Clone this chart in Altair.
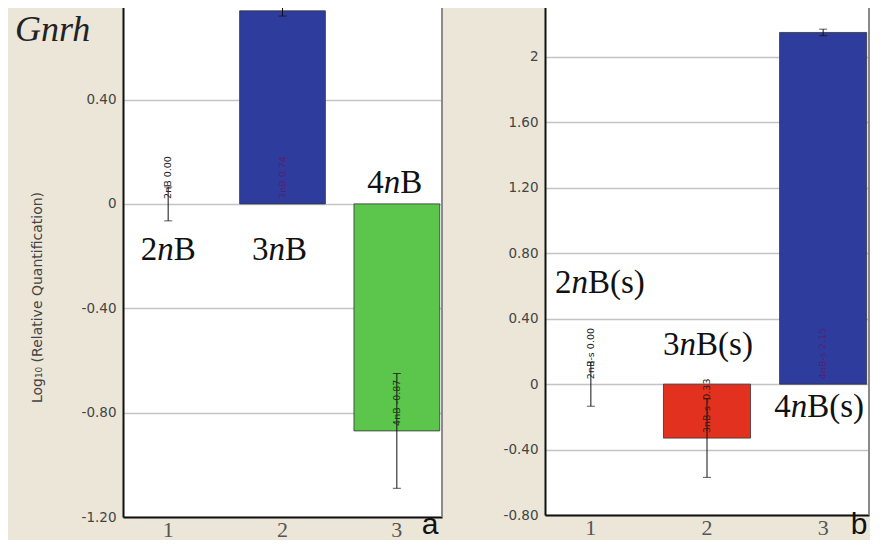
import altair as alt
import pandas as pd

# ---------------- data ----------------
cats = ["1", "2", "3"]

# panel a (Gnrh, 2nB / 3nB / 4nB)
a_names = ["2nB", "3nB", "4nB"]
a_values = [0.00, 0.74, -0.87]
a_errors = [0.065, 0.02, 0.22]
a_ticks = [0.40, 0.0, -0.40, -0.80, -1.20]
a_tick_labels = ["0.40", "0", "-0.40", "-0.80", "-1.20"]
a_big_prefix = ["2", "3", "4"]
a_big_suffix = ["B", "B", "B"]
a_big_y = [-0.175, -0.175, 0.08]

# panel b (2nB(s) / 3nB(s) / 4nB(s))
b_names = ["2nB-s", "3nB-s", "4nB-s"]
b_values = [0.00, -0.33, 2.15]
b_errors = [0.135, 0.24, 0.02]
b_ticks = [2.0, 1.6, 1.2, 0.8, 0.4, 0.0, -0.4, -0.8]
b_tick_labels = ["2", "1.60", "1.20", "0.80", "0.40", "0", "-0.40", "-0.80"]
b_big_prefix = ["2", "3", "4"]
b_big_suffix = ["B(s)", "B(s)", "B(s)"]
b_big_y = [0.62, 0.24, -0.14]

# styles
a_bar_colors = ["#ffffff", "#2e3d9d", "#5cc54b"]
a_text_colors = ["#222222", "#5b1e6e", "#1f3a1a"]
b_bar_colors = ["#ffffff", "#e2311f", "#2e3d9d"]
b_text_colors = ["#222222", "#3a1a10", "#5b1e6e"]
a_big_shift = [0, -3, -2]
b_big_shift = [9, 1, -4]

BEIGE = "#ebe6d8"
BIG = 33
EM = {"0": .5, "1": .5, "2": .5, "3": .5, "4": .5, "n": .5, "B": .667, "(": .333, "s": .389, ")": .333}


def wid(s):
    return sum(EM[c] for c in s) * BIG


def label_expr(ticks, labels):
    expr = "''"
    for t, l in reversed(list(zip(ticks, labels))):
        expr = f"abs(datum.value - ({t})) < 1e-6 ? '{l}' : " + expr
    return expr


def panel(names, values, errors, bar_colors, text_colors, ticks, tick_labels,
          domain, width, height, big_prefix, big_suffix, big_y, big_shift,
          y_title, letter, letter_x, letter_y):
    df = pd.DataFrame({
        "cat": cats,
        "value": values,
        "err": errors,
        "color": bar_colors,
        "tcolor": text_colors,
        "label": [f"{n} {v:.2f}" for n, v in zip(names, values)],
    })
    df["lo"] = df["value"] - df["err"]
    df["hi"] = df["value"] + df["err"]
    df["anchor"] = df["value"].clip(upper=0)

    common = dict(
        values=ticks, labelExpr=label_expr(ticks, tick_labels),
        grid=True, gridColor="#c4c4c4", gridWidth=1.5,
        ticks=False, domain=True, domainColor="#111111", domainWidth=2,
        labelFont="DejaVu Sans", labelFontSize=13.5, labelColor="#444444", labelPadding=7,
    )
    if y_title:
        yaxis = alt.Axis(
            title=y_title, titleFont="DejaVu Sans", titleFontSize=14, titleFontWeight="normal",
            titleColor="#444444", titleAngle=270, titleX=-86, titleY=294,
            titleAlign="center", titleBaseline="middle", **common)
    else:
        yaxis = alt.Axis(title=None, **common)

    xscale = alt.Scale(domain=cats, paddingInner=0.25, paddingOuter=0.02)
    yscale = alt.Scale(domain=domain, nice=False, zero=False)
    xenc = alt.X("cat:N", scale=xscale, axis=alt.Axis(
        labelAngle=0, title=None, ticks=False, grid=False,
        domain=True, domainColor="#111111", domainWidth=2,
        labelFont="Liberation Serif", labelFontSize=22, labelColor="#555555", labelPadding=2))

    base = alt.Chart(df)
    bars = base.transform_filter("datum.value != 0").mark_bar(
        stroke="#333333", strokeWidth=0.8).encode(
        x=xenc, y=alt.Y("value:Q", scale=yscale, axis=yaxis),
        color=alt.Color("color:N", scale=None))
    rule = base.mark_rule(color="#111111", strokeWidth=1).encode(
        x="cat:N", y="lo:Q", y2="hi:Q")
    cap_lo = base.mark_tick(color="#111111", thickness=1, size=8).encode(x="cat:N", y="lo:Q")
    cap_hi = base.mark_tick(color="#111111", thickness=1, size=8).encode(x="cat:N", y="hi:Q")
    vals = base.mark_text(angle=270, align="left", baseline="middle", dx=5,
                          font="DejaVu Sans", fontSize=9.5).encode(
        x="cat:N", y="anchor:Q", text="label:N",
        color=alt.Color("tcolor:N", scale=None))
    border = alt.Chart(pd.DataFrame({"k": [0]})).mark_rule(color="#8a8a8a", strokeWidth=2).encode(
        x=alt.value(width), y=alt.value(0), y2=alt.value(height))

    layers = [bars, rule, cap_lo, cap_hi, vals, border]

    # big genotype labels with italic n
    for c, p, s, yv, sh in zip(cats, big_prefix, big_suffix, big_y, big_shift):
        total = wid(p) + wid("n") + wid(s)
        left = sh - total / 2
        d = pd.DataFrame({"cat": [c], "y": [yv], "p": [p], "n": ["n"], "s": [s]})
        bc = alt.Chart(d)
        layers.append(bc.mark_text(font="Liberation Serif", fontSize=BIG, align="right",
                                   baseline="middle", color="#111111",
                                   dx=left + wid(p)).encode(x="cat:N", y="y:Q", text="p:N"))
        layers.append(bc.mark_text(font="Liberation Serif", fontSize=BIG, fontStyle="italic",
                                   align="center", baseline="middle", color="#111111",
                                   dx=left + wid(p) + wid("n") / 2).encode(x="cat:N", y="y:Q", text="n:N"))
        layers.append(bc.mark_text(font="Liberation Serif", fontSize=BIG, align="left",
                                   baseline="middle", color="#111111",
                                   dx=left + wid(p) + wid("n")).encode(x="cat:N", y="y:Q", text="s:N"))

    layers.append(alt.Chart(pd.DataFrame({"t": [letter]})).mark_text(
        font="Liberation Sans", fontSize=30, align="center", baseline="alphabetic",
        color="#111111").encode(text="t:N", x=alt.value(letter_x), y=alt.value(letter_y)))

    return alt.layer(*layers).properties(width=width, height=height)


left = panel(a_names, a_values, a_errors, a_bar_colors, a_text_colors, a_ticks, a_tick_labels,
             [-1.2, 0.77], 319, 514, a_big_prefix, a_big_suffix, a_big_y, a_big_shift,
             "Log\u2081\u2080 (Relative Quantification)", "a", 307, 531)
gene = alt.Chart(pd.DataFrame({"t": ["Gnrh"]})).mark_text(
    font="Liberation Serif", fontStyle="italic", fontSize=36, align="left",
    baseline="alphabetic", color="#222222").encode(text="t:N", x=alt.value(-108), y=alt.value(38))
left = alt.layer(left, gene)

right = panel(b_names, b_values, b_errors, b_bar_colors, b_text_colors, b_ticks, b_tick_labels,
              [-0.8, 2.33], 324, 512, b_big_prefix, b_big_suffix, b_big_y, b_big_shift,
              None, "b", 314, 531)

chart = alt.hconcat(left, right, spacing=60).properties(
    padding={"left": 7, "top": -6, "right": 0, "bottom": 0}
).configure(background=BEIGE).configure_view(fill="white", stroke=None)

chart.save("out.html", embed_options={"renderer": "svg", "actions": False})
